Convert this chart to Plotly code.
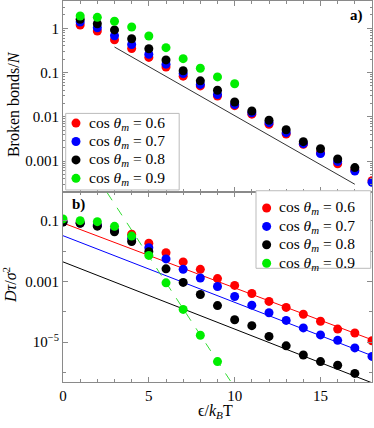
import plotly.graph_objects as go
from plotly.subplots import make_subplots

# panel a) broken bonds per particle
x_bonds = list(range(1, 19))
bonds_06 = [1.19, 0.87, 0.55, 0.35, 0.22, 0.134, 0.083, 0.05, 0.0296, 0.0179, 0.0115,
            0.0068, 0.0041, 0.0024, 0.00155, 0.00087, 0.00063, 0.00036]
bonds_07 = [1.39, 1.03, 0.68, 0.43, 0.26, 0.155, 0.095, 0.054, 0.032, 0.019, 0.0124,
            0.0074, 0.0044, 0.00248, 0.00148, 0.00098, 0.0006, 0.000334]
bonds_08 = [1.6, 1.27, 0.92, 0.58, 0.345, 0.193, 0.11, 0.065, 0.040, 0.0217, 0.0136,
            0.0084, 0.0051, 0.00275, 0.0019, 0.00112, 0.000714]
bonds_09 = [1.9, 1.77, 1.44, 1.07, 0.67, 0.365, 0.206, 0.125, 0.08, 0.056]
bonds_fit_x = [3, 17]
bonds_fit_y = [0.378, 3.0e-4]

# panel b) D tau / sigma^2
x_tau = list(range(0, 19))
tau_06 = [0.095, 0.086, 0.074, 0.05, 0.036, 0.018, 0.0088, 0.0044, 0.0025, 0.00124,
          0.00074, 0.0004, 0.00022, 0.00014, 8.3e-5, 4.9e-5, 2.7e-5, 2.0e-5, 1.12e-5]
tau_07 = [0.092, 0.084, 0.071, 0.047, 0.026, 0.0128, 0.0055, 0.0025, 0.0013, 0.00068,
          0.00032, 0.000166, 9.3e-5, 5.2e-5, 2.95e-5, 1.74e-5, 1.15e-5, 6.5e-6, 3.4e-6]
tau_08 = [0.09, 0.082, 0.066, 0.043, 0.0206, 0.0095, 0.0026, 0.00093, 0.00037, 0.00016,
          5.5e-5, 3.5e-5, 1.55e-5, 7.6e-6, 3.8e-6, 2.3e-6, 1.74e-6, 9.4e-7]
tau_09 = [0.114, 0.1, 0.093, 0.065, 0.031, 0.0072, 0.0009, 1.2e-4, 1.7e-5, 2.3e-6]
fit_x = [0, 18]
fit_06 = [0.084, 1.2e-5]
fit_07 = [0.032, 3.6e-6]
fit_08 = [0.0044, 4.6e-7]
fit_09_x = [2, 10.5]
fit_09 = [2.6, 1.2e-7]

labels = ["0.6", "0.7", "0.8", "0.9"]
colors = ["#ff0000", "#0000ff", "#000000", "#00ee00"]

FONT = "Liberation Serif"
FRAME = "#8a8a8a"

fig = make_subplots(rows=2, cols=1, shared_xaxes=True, vertical_spacing=0)

top_series = [bonds_06, bonds_07, bonds_08, bonds_09]
bot_series = [tau_06, tau_07, tau_08, tau_09]

fig.add_trace(go.Scatter(x=bonds_fit_x, y=bonds_fit_y, mode="lines",
                         line=dict(color="#333333", width=1)), row=1, col=1)
for ys, c in zip(top_series, colors):
    fig.add_trace(go.Scatter(x=x_bonds[:len(ys)], y=ys, mode="markers",
                             marker=dict(color=c, size=9)), row=1, col=1)

for fy, c in zip([fit_06, fit_07, fit_08], colors):
    fig.add_trace(go.Scatter(x=fit_x, y=fy, mode="lines",
                             line=dict(color=c, width=1)), row=2, col=1)
fig.add_trace(go.Scatter(x=fit_09_x, y=fit_09, mode="lines",
                         line=dict(color="#33dd33", width=1, dash="dash")), row=2, col=1)
for ys, c in zip(bot_series, colors):
    fig.add_trace(go.Scatter(x=x_tau[:len(ys)], y=ys, mode="markers",
                             marker=dict(color=c, size=9)), row=2, col=1)

minor_log = [m * 10 ** e for e in range(-8, 2) for m in range(2, 10)]
axis_style = dict(showline=True, linecolor=FRAME, linewidth=1, mirror="ticks",
                  ticks="inside", ticklen=5, tickcolor=FRAME, showgrid=False,
                  zeroline=False, tickfont=dict(family=FONT, size=15, color="black"))

fig.update_xaxes(range=[0, 18], tickvals=[0, 5, 10, 15],
                 minor=dict(ticks="inside", ticklen=3, tickcolor=FRAME, dtick=1),
                 **axis_style)
fig.update_xaxes(showticklabels=False, row=1, col=1)
fig.update_yaxes(type="log", range=[-3.686, 0.617],
                 tickvals=[1, 0.1, 0.01, 0.001], ticktext=["1", "0.1", "0.01", "0.001"],
                 minor=dict(ticks="inside", ticklen=2, tickcolor=FRAME, tickvals=minor_log),
                 row=1, col=1, **axis_style)
fig.update_yaxes(type="log", range=[-6.31, -0.04],
                 tickvals=[0.1, 0.001, 1e-5], ticktext=["0.1", "0.001", "10<sup>−5</sup>"],
                 minor=dict(ticks="inside", ticklen=3, tickcolor=FRAME,
                            tickvals=[1e-1, 1e-2, 1e-3, 1e-4, 1e-5, 1e-6]),
                 row=2, col=1, **axis_style)

# hand-drawn legend boxes, one per panel (paper coordinates)
shapes = []
annotations = []
legends = [
    dict(box=(0.0087, 0.376, 0.504, 0.705), mx=0.042, tx=0.0767, y0=0.6795),
    dict(box=(0.6246, 0.9958, 0.2984, 0.502), mx=0.659, tx=0.6926, y0=0.4567),
]
row_step = 0.0483
for lg in legends:
    bx0, bx1, by0, by1 = lg["box"]
    shapes.append(dict(type="rect", xref="paper", yref="paper", x0=bx0, x1=bx1,
                       y0=by0, y1=by1, fillcolor="white",
                       line=dict(color="#bbbbbb", width=1)))
    for i, (lab, c) in enumerate(zip(labels, colors)):
        yy = lg["y0"] - i * row_step
        shapes.append(dict(type="circle", xref="paper", yref="paper",
                           xsizemode="pixel", ysizemode="pixel",
                           xanchor=lg["mx"], yanchor=yy,
                           x0=-4.5, x1=4.5, y0=-4.5, y1=4.5,
                           fillcolor=c, line=dict(width=0)))
        annotations.append(dict(text=f"cos <i>θ</i><sub><i>m</i></sub> = {lab}",
                                x=lg["tx"], y=yy, xref="paper", yref="paper",
                                xanchor="left", yanchor="middle", showarrow=False,
                                font=dict(family=FONT, size=15.5, color="black")))

annotations += [
    dict(text="Broken bonds/<i>N</i>", x=-0.158, y=0.73, textangle=-90,
         font=dict(family=FONT, size=16)),
    dict(text="<i>Dτ</i>/<i>σ</i><sup>2</sup>", x=-0.172, y=0.254, textangle=-90,
         font=dict(family=FONT, size=16)),
    dict(text="ϵ/<i>k</i><sub><i>B</i></sub>T", x=0.493, y=-0.078,
         font=dict(family=FONT, size=16)),
    dict(text="<b>a)</b>", x=0.951, y=0.961, font=dict(family=FONT, size=15)),
    dict(text="<b>b)</b>", x=0.049, y=0.466, font=dict(family=FONT, size=15)),
]
for a in annotations[-5:]:
    a.update(xref="paper", yref="paper", xanchor="center", yanchor="middle",
             showarrow=False)

fig.update_layout(
    width=374, height=428,
    margin=dict(l=63, r=2, t=1, b=46, autoexpand=False),
    paper_bgcolor="white", plot_bgcolor="white",
    font=dict(family=FONT, size=15, color="black"),
    showlegend=False,
    shapes=shapes,
    annotations=annotations,
)

fig.write_html("out.html", config={"displayModeBar": False},
               post_script="document.body.style.margin='0';")
